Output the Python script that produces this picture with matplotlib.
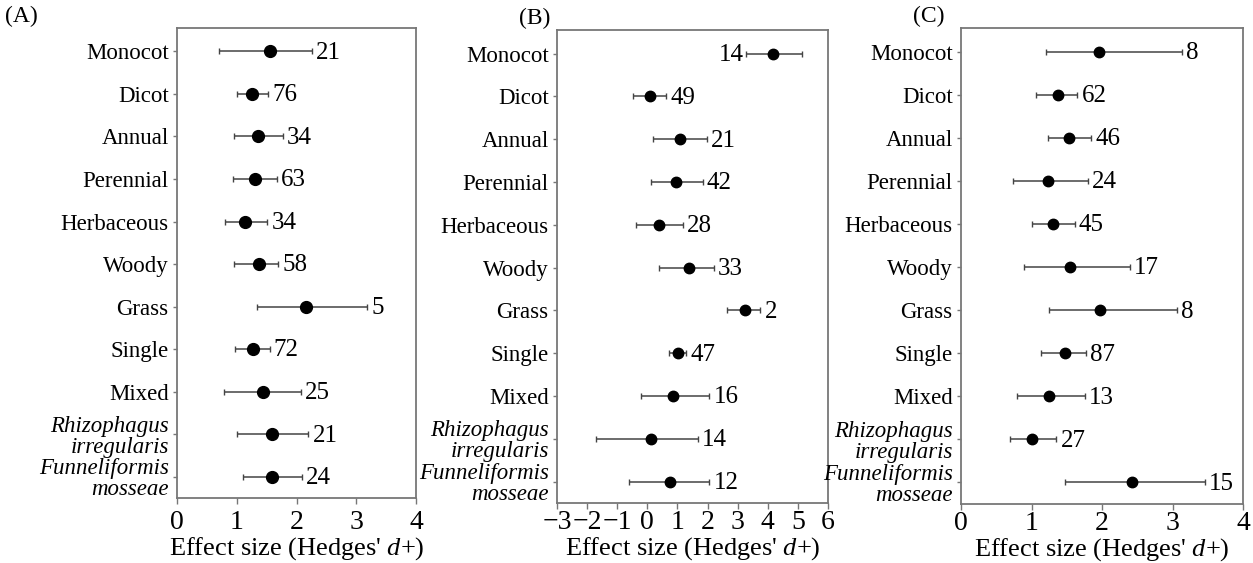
import matplotlib
matplotlib.use('Agg')
import matplotlib.pyplot as plt
import numpy as np

plt.rcParams['font.family'] = ['Liberation Serif', 'DejaVu Serif']
plt.rcParams['mathtext.fontset'] = 'custom'
plt.rcParams['mathtext.it'] = 'Liberation Serif:italic'
plt.rcParams['mathtext.rm'] = 'Liberation Serif'

categories = ['Monocot', 'Dicot', 'Annual', 'Perennial', 'Herbaceous', 'Woody',
              'Grass', 'Single', 'Mixed', 'Rhizophagus\nirregularis',
              'Funneliformis\nmosseae']
italic_cats = [9, 10]

# panel A
a_mean = [1.55, 1.26, 1.35, 1.30, 1.13, 1.38, 2.16, 1.27, 1.44, 1.59, 1.59]
a_low = [0.71, 1.00, 0.96, 0.93, 0.80, 0.96, 1.34, 0.97, 0.79, 1.01, 1.10]
a_high = [2.26, 1.52, 1.77, 1.67, 1.51, 1.69, 3.18, 1.55, 2.07, 2.20, 2.09]
a_n = [21, 76, 34, 63, 34, 58, 5, 72, 25, 21, 24]

# panel B
b_mean = [4.16, 0.08, 1.07, 0.95, 0.38, 1.37, 3.25, 1.02, 0.87, 0.12, 0.76]
b_low = [3.29, -0.49, 0.18, 0.12, -0.37, 0.38, 2.65, 0.71, -0.20, -1.70, -0.62]
b_high = [5.14, 0.62, 1.98, 1.84, 1.18, 2.20, 3.75, 1.28, 2.06, 1.68, 2.06]
b_n = [14, 49, 21, 42, 28, 33, 2, 47, 16, 14, 12]

# panel C
c_mean = [1.96, 1.37, 1.53, 1.23, 1.31, 1.55, 1.97, 1.47, 1.25, 1.01, 2.42]
c_low = [1.20, 1.06, 1.23, 0.73, 1.00, 0.89, 1.25, 1.14, 0.80, 0.69, 1.47]
c_high = [3.13, 1.65, 1.85, 1.80, 1.61, 2.39, 3.06, 1.77, 1.76, 1.35, 3.46]
c_n = [8, 62, 46, 24, 45, 17, 8, 87, 13, 27, 15]

panels = [
    ('(A)', a_mean, a_low, a_high, a_n, (0, 4), range(0, 5), 8.5,
     [0.1413, 0.1155, 0.1907, 0.8348], 4.5),
    ('(B)', b_mean, b_low, b_high, b_n, (-3, 6), range(-3, 7), 7.5,
     [0.4445, 0.1066, 0.2163, 0.8400], 1),
    ('(C)', c_mean, c_low, c_high, c_n, (0, 4), range(0, 5), 7.5,
     [0.7670, 0.1048, 0.2251, 0.8455], 1),
]

fig = plt.figure(figsize=(12.53, 5.63), dpi=100)
y = np.arange(len(categories))

for tag, mean, low, high, n, xlim, xticks, ms, rect, xpad in panels:
    ax = fig.add_axes(rect)
    mean = np.array(mean)
    err = [mean - np.array(low), np.array(high) - mean]
    ax.errorbar(mean, y, xerr=err, fmt='o', color='black', ms=ms,
                ecolor='#444444', elinewidth=1.1, capsize=2.5, capthick=1.0)
    for i in range(len(categories)):
        if tag == '(B)' and i == 0:
            ax.annotate(str(n[i]), (low[i], y[i]), xytext=(-2, -1),
                        textcoords='offset points', ha='right', va='center',
                        fontsize=18)
        else:
            ax.annotate(str(n[i]), (high[i], y[i]), xytext=(3, -1),
                        textcoords='offset points', ha='left', va='center',
                        fontsize=18)
    ax.set_xlim(*xlim)
    ax.set_xticks(list(xticks))
    ax.set_ylim(10.5, -0.55)
    ax.set_yticks(y)
    ax.set_yticklabels(categories, fontsize=16.5, linespacing=1.0)
    for i in italic_cats:
        ax.get_yticklabels()[i].set_fontstyle('italic')
    ax.tick_params(axis='x', labelsize=20, length=4, width=1, color='#777777', pad=xpad)
    ax.tick_params(axis='y', length=3, width=1, color='#777777', pad=3)
    for s in ax.spines.values():
        s.set_color('#777777')
        s.set_linewidth(1.3)
    ax.set_xlabel("Effect size (Hedges' $d$+)", fontsize=19, labelpad=0)
    ax.text(-0.72 if tag == '(A)' else (-0.14 if tag == '(B)' else -0.17), 1.025,
            tag, transform=ax.transAxes, fontsize=17, ha='left', va='center')

fig.savefig('out.png', dpi=100)
